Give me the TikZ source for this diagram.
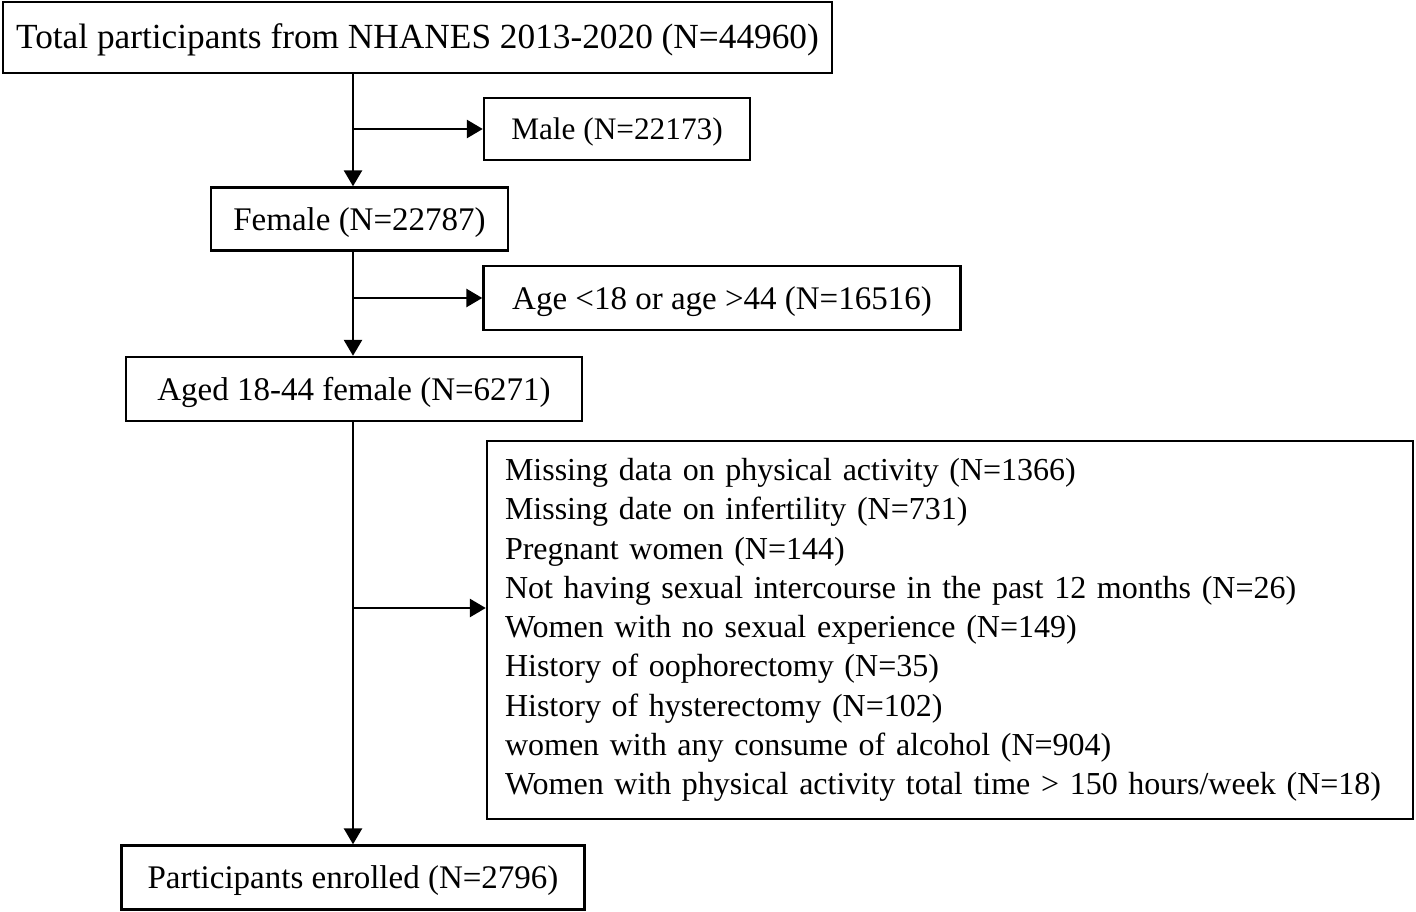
\documentclass[tikz,border=0pt]{standalone}
\usepackage{fontspec}
\setmainfont{Liberation Serif}
\usetikzlibrary{arrows.meta}

\tikzset{
    box/.style={draw, line width=2.4pt, inner sep=0pt, font=\fontsize{33}{39.3}\selectfont},
    onebox/.style={box, text height=22pt, text depth=0pt},
    arr/.style={line width=2.7pt, -{Triangle[length=16pt,width=18pt]}}
}

\begin{document}
\begin{tikzpicture}[x=1pt, y=-1pt]
    \useasboundingbox (0,0) rectangle (1416,912);

    \node[onebox, minimum width=829, minimum height=71, font=\fontsize{35.3}{40}\selectfont](total) at (417.5,37.5){Total participants from NHANES 2013-2020 (N=44960)};
    \node[onebox, minimum width=266, minimum height=62, font=\fontsize{31.3}{38}\selectfont](male) at (617,129){Male (N=22173)};
    \node[onebox, minimum width=297, minimum height=63](female) at (359.5,219){Female (N=22787)};
    \node[onebox, minimum width=477, minimum height=64](age) at (722,298){Age <18 or age >44 (N=16516)};
    \node[onebox, minimum width=456, minimum height=64](aged) at (354,389){Aged 18-44 female (N=6271)};
    \node[box, minimum width=926, minimum height=378, text width=890, inner xsep=18pt, align=left, font=\fontsize{32}{39.3}\selectfont](excl) at (950,630){Missing data on physical activity (N=1366)\\
        Missing date on infertility (N=731)\\
        Pregnant women (N=144)\\
        Not having sexual intercourse in the past 12 months (N=26)\\
        Women with no sexual experience (N=149)\\
        History of oophorectomy (N=35)\\
        History of hysterectomy (N=102)\\
        women with any consume of alcohol (N=904)\\
        Women with physical activity total time > 150 hours/week (N=18)};
    \node[onebox, minimum width=463, minimum height=64](final) at (353,877.5){Participants enrolled (N=2796)};

    \coordinate(spine) at (353,0);

    \draw[arr](total.south -| spine)--(female.north -| spine);
    \draw[arr](male.west -| spine)--(male.west);
    \draw[arr](female.south -| spine)--(aged.north -| spine);
    \draw[arr](age.west -| spine)--(age.west);
    \draw[arr](aged.south -| spine)--(final.north -| spine);
    \draw[arr]([yshift=22pt]excl.west -| spine)--([yshift=22pt]excl.west);
\end{tikzpicture}
\end{document}
